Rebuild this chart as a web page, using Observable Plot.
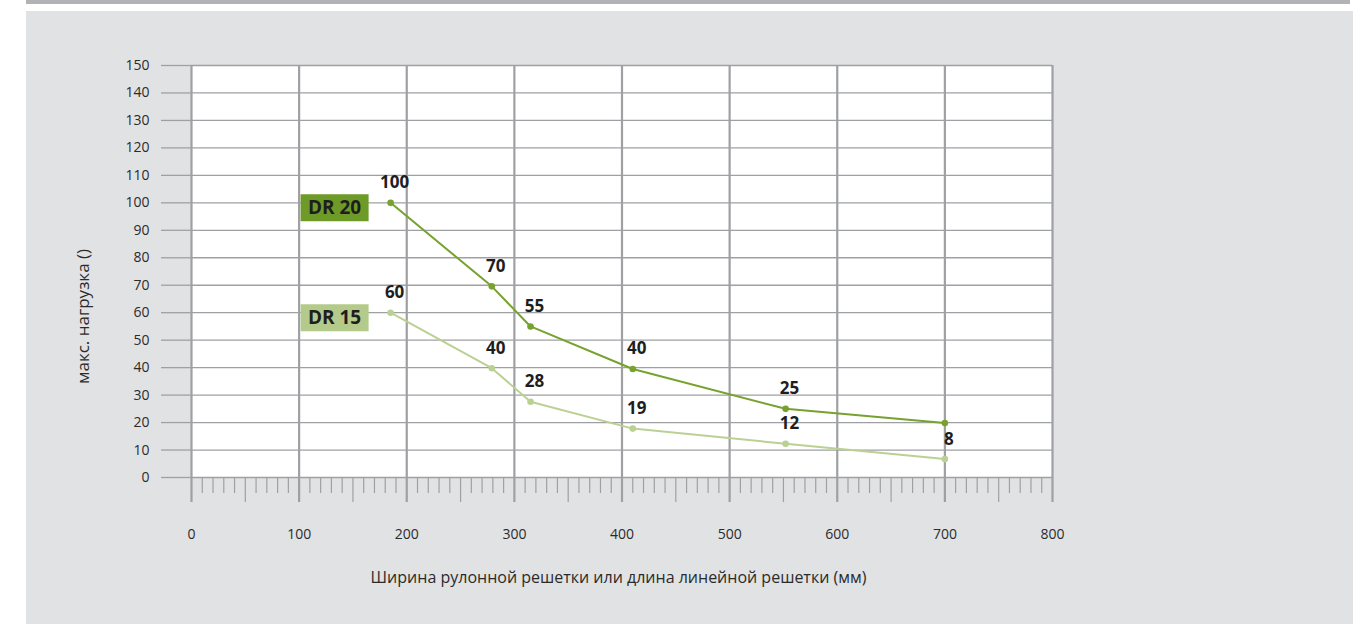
<!DOCTYPE html>
<html>
<head>
<meta charset="utf-8">
<script src="https://cdn.jsdelivr.net/npm/d3@7"></script>
<script src="https://cdn.jsdelivr.net/npm/@observablehq/plot@0.6"></script>
<style>
  html, body { margin: 0; padding: 0; background: #ffffff; }
  #wrap { position: relative; width: 1363px; height: 624px; overflow: hidden; }
  #topbar { position: absolute; left: 26px; top: 0; width: 1324px; height: 4px; background: #b1b2b6; }
  #panel { position: absolute; left: 26px; top: 11px; width: 1327px; height: 613px; background: #e1e2e4; }
  #chart { position: absolute; left: 0; top: 0; }
</style>
</head>
<body>
<div id="wrap">
  <div id="topbar"></div>
  <div id="panel"></div>
  <div id="chart"></div>
</div>
<script>
// ---- data ----
const widths = [185, 279, 315, 410, 552, 700];           // mm
const dr20 = [100, 69.6, 55, 39.5, 25, 19.8];
const dr20Labels = ["100", "70", "55", "40", "25", ""];
const dr15 = [60, 39.8, 27.6, 17.8, 12.3, 6.7];
const dr15Labels = ["60", "40", "28", "19", "12", "8"];
const seriesNames = ["DR 20", "DR 15"];
const xTicks = [0, 100, 200, 300, 400, 500, 600, 700, 800];
const yTicks = [0, 10, 20, 30, 40, 50, 60, 70, 80, 90, 100, 110, 120, 130, 140, 150];
const yLabel = "макс. нагрузка ()";
const xLabel = "Ширина рулонной решетки или длина линейной решетки (мм)";

const lineColors = {"DR 20": "#76a22d", "DR 15": "#bad193"};
const boxColors = {"DR 20": "#6e9a28", "DR 15": "#b3ca8b"};
const gridColor = "#9fa0a4";

const rows = [];
widths.forEach((w, i) => rows.push({series: "DR 20", x: w, y: dr20[i], label: dr20Labels[i]}));
widths.forEach((w, i) => rows.push({series: "DR 15", x: w, y: dr15[i], label: dr15Labels[i]}));
const firsts = seriesNames.map(s => rows.find(r => r.series === s));

const minorTicks = d3.range(0, 801, 10).filter(v => v % 50 !== 0);
const halfTicks = d3.range(50, 800, 100);

const boxSymbol = { draw(ctx) { ctx.rect(-34, -13.5, 68, 27); } };

const chart = Plot.plot({
  width: 1363,
  height: 624,
  marginLeft: 191,
  marginRight: 311,
  marginTop: 65,
  marginBottom: 147,
  style: { fontFamily: "'Open Sans', sans-serif", background: "transparent", color: "#2b2b2b" },
  x: { domain: [0, 800] },
  y: { domain: [0, 150] },
  marks: [
    Plot.frame({ fill: "white", stroke: null }),
    Plot.gridY(yTicks, { stroke: gridColor, strokeOpacity: 1, strokeWidth: 1.3 }),
    Plot.gridX(xTicks, { stroke: gridColor, strokeOpacity: 1, strokeWidth: 2.2 }),
    Plot.axisY({ ticks: yTicks, tickSize: 30, tickPadding: 12, stroke: gridColor, strokeWidth: 1.3, fontSize: 14, label: null, tickFormat: d => d, fill: "#2b2b2b" }),
    Plot.axisX({ ticks: xTicks, tickSize: 25, strokeWidth: 2.2, stroke: gridColor, tickFormat: () => "", label: null }),
    Plot.axisX({ ticks: halfTicks, tickSize: 25, strokeWidth: 1.2, stroke: gridColor, tickFormat: () => "", label: null }),
    Plot.axisX({ ticks: minorTicks, tickSize: 16, strokeWidth: 1.2, stroke: gridColor, tickFormat: () => "", label: null }),
    Plot.axisX({ ticks: xTicks, tickSize: 0, tickPadding: 52, fontSize: 14, label: null, tickFormat: d => d, fill: "#2b2b2b" }),
    Plot.line(rows, { x: "x", y: "y", z: "series", stroke: d => lineColors[d.series], strokeWidth: 2 }),
    Plot.dot(rows, { x: "x", y: "y", fill: d => lineColors[d.series], r: 3.3, stroke: null }),
    Plot.text(rows, { x: "x", y: "y", text: "label", dx: 4, dy: -20, fontSize: 17, fontWeight: "bold", fill: "#1e1e1e" }),
    Plot.dot(firsts, { x: "x", y: "y", symbol: boxSymbol, r: 1, fill: d => boxColors[d.series], stroke: null, dx: -56, dy: 5 }),
    Plot.text(firsts, { x: "x", y: "y", text: "series", dx: -56, dy: 5, fontSize: 19, fontWeight: "bold", fill: "#1e1e1e" }),
    Plot.text([yLabel], { frameAnchor: "left", textAnchor: "middle", lineAnchor: "middle", dx: -108, dy: 45, rotate: -90, fontSize: 17, fill: "#2b2b2b" }),
    Plot.text([xLabel], { frameAnchor: "bottom", textAnchor: "middle", lineAnchor: "middle", dx: -3.5, dy: 100, fontSize: 16, fill: "#2b2b2b" })
  ]
});
document.getElementById("chart").appendChild(chart);
</script>
</body>
</html>
